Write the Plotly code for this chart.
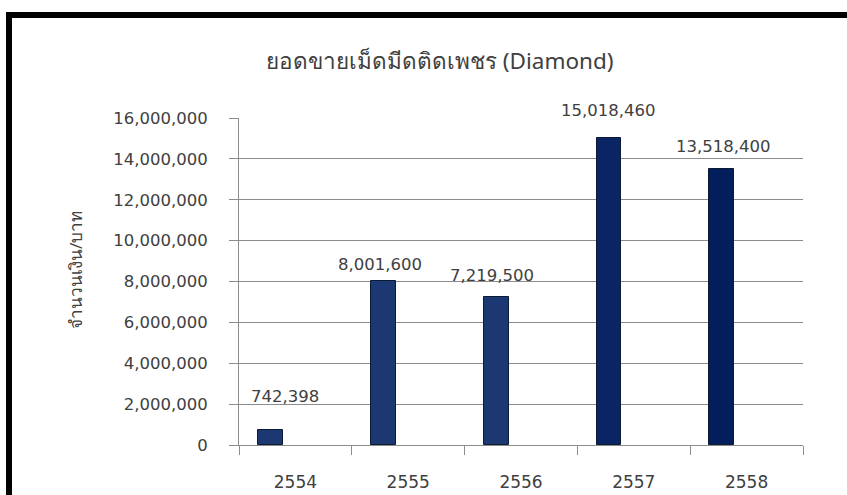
import plotly.graph_objects as go

# Annual diamond-insert sales (baht)
years = ["2554", "2555", "2556", "2557", "2558"]
sales = [742398, 8001600, 7219500, 15018460, 13518400]
bar_colors = ["#1b3872", "#1b3872", "#1b3872", "#0a2563", "#021f5c"]

# label nudges in pixels (x, y) relative to each bar's category centre / top
label_dx = [-10, -28, -29, -26, -24]
label_dy = [33, 17, 22, 28, 22]

title_text = "ยอดขายเม็ดมีดติดเพชร (Diamond)"
y_title = "จำนวนเงิน/บาท"

FONT = "'Noto Sans', 'DejaVu Sans', sans-serif"
NUM_FONT = "'DejaVu Sans', sans-serif"
TXT = "#404040"
GRID = "#8c8c8c"

W, H = 847, 495
L, R, T, B = 239, 44, 118, 50
pw, ph = W - L - R, H - T - B


def px(x):
    return (x - L) / pw


def py(y):
    return (H - B - y) / ph


fig = go.Figure()
fig.add_trace(go.Bar(
    x=years, y=sales,
    width=0.22, offset=-0.33,
    marker=dict(color=bar_colors, line=dict(color="#0d1a36", width=1)),
    showlegend=False,
))

annotations = []
for i, (v, dx, dy) in enumerate(zip(sales, label_dx, label_dy)):
    # category index i is the centre of years[i]
    annotations.append(dict(
        x=i, y=v, xref="x", yref="y", text=f"{v:,}", showarrow=False,
        xshift=dx, yshift=dy, yanchor="middle", xanchor="center",
        font=dict(family=NUM_FONT, size=16.5, color=TXT),
    ))

annotations.append(dict(
    x=px(440), y=py(60), xref="paper", yref="paper", text=title_text,
    showarrow=False, xanchor="center", yanchor="middle",
    font=dict(family=FONT, size=22.5, color=TXT),
))
annotations.append(dict(
    x=px(75), y=py(270), xref="paper", yref="paper", text=y_title,
    showarrow=False, xanchor="center", yanchor="middle", textangle=-90,
    font=dict(family=FONT, size=17, color=TXT),
))

fig.update_layout(
    width=W, height=H,
    margin=dict(l=L, r=R, t=T, b=B, pad=0),
    paper_bgcolor="white", plot_bgcolor="white",
    annotations=annotations,
    bargap=0,
    shapes=[dict(
        type="rect", xref="paper", yref="paper",
        x0=px(9), x1=px(900), y0=py(15), y1=py(540),
        line=dict(color="black", width=6), fillcolor="rgba(0,0,0,0)",
        layer="above",
    )],
)

fig.update_xaxes(
    type="category", categoryorder="array", categoryarray=years,
    range=[-0.5, len(years) - 0.5], autorange=False,
    tickson="boundaries", ticks="outside", ticklen=9,
    tickcolor=GRID, showline=True, linecolor=GRID, linewidth=1,
    showgrid=False, ticklabelstandoff=22, tickangle=0, automargin=False,
    tickfont=dict(family=NUM_FONT, size=17, color=TXT),
)
fig.update_yaxes(
    range=[0, 16000000], autorange=False, dtick=2000000, tickformat=",",
    ticks="outside", ticklen=9, tickcolor=GRID,
    showline=True, linecolor=GRID, linewidth=1,
    showgrid=True, gridcolor=GRID, gridwidth=1,
    zeroline=False, ticklabelstandoff=18, automargin=False,
    tickfont=dict(family=NUM_FONT, size=16.5, color=TXT),
)

fig.write_html("out.html")
